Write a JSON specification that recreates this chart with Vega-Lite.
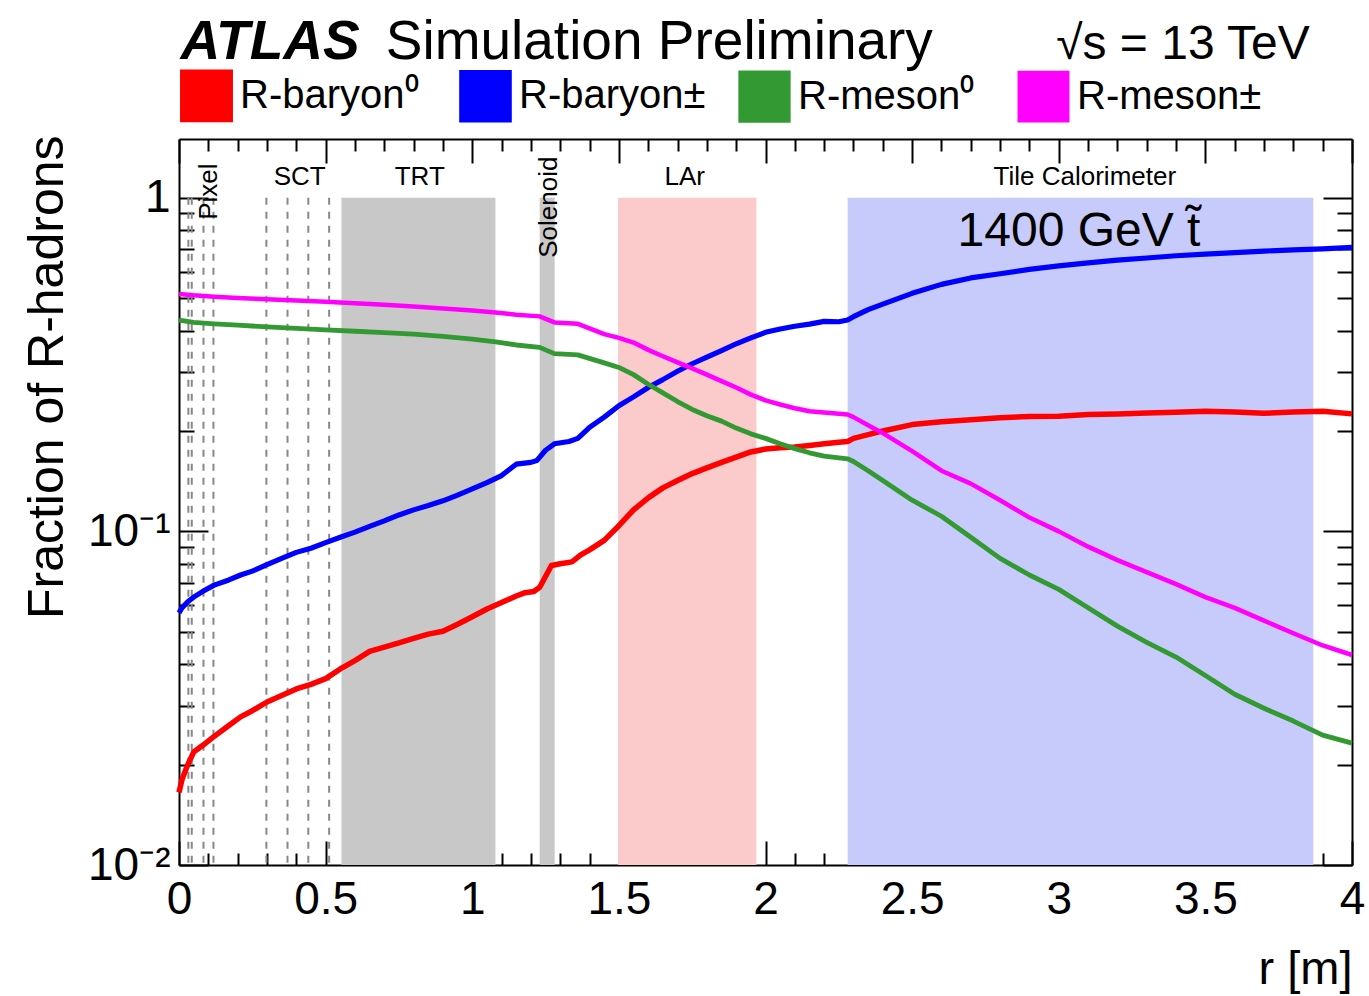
{
"$schema": "https://vega.github.io/schema/vega-lite/v6.json",
"width": 1173, "height": 726,
"autosize": {"type": "none"},
"padding": {"left": 179, "top": 139, "right": 17, "bottom": 131},
"background": "white",
"config": {
  "view": {"stroke": null},
  "font": "Liberation Sans",
  "axis": {"grid": false, "domain": false, "tickColor": "black", "tickWidth": 2, "labelColor": "black", "labelFont": "Liberation Sans", "titleFont": "Liberation Sans", "titleColor": "black", "titleFontWeight": "normal", "zindex": 1, "labelFlush": false, "labelOverlap": false, "domainColor": "black", "domainWidth": 2}
},
"datasets": {
  "regions": [
    {"detector": "TRT", "start": 0.554, "end": 1.079},
    {"detector": "Solenoid", "start": 1.230, "end": 1.281},
    {"detector": "LAr", "start": 1.497, "end": 1.969},
    {"detector": "Tile Calorimeter", "start": 2.280, "end": 3.868}
  ],
  "layers": [
    {"r": 0.032}, {"r": 0.0435}, {"r": 0.0835}, {"r": 0.1175},
    {"r": 0.298}, {"r": 0.370}, {"r": 0.441}, {"r": 0.512}
  ],
  "curves": [
    {"series": "R-baryon⁰", "r": 0.00, "v": 0.0165},
    {"series": "R-baryon⁰", "r": 0.01, "v": 0.0180},
    {"series": "R-baryon⁰", "r": 0.03, "v": 0.0200},
    {"series": "R-baryon⁰", "r": 0.05, "v": 0.0218},
    {"series": "R-baryon⁰", "r": 0.08, "v": 0.0228},
    {"series": "R-baryon⁰", "r": 0.12, "v": 0.0243},
    {"series": "R-baryon⁰", "r": 0.17, "v": 0.0262},
    {"series": "R-baryon⁰", "r": 0.21, "v": 0.0278},
    {"series": "R-baryon⁰", "r": 0.25, "v": 0.0290},
    {"series": "R-baryon⁰", "r": 0.30, "v": 0.0308},
    {"series": "R-baryon⁰", "r": 0.35, "v": 0.0322},
    {"series": "R-baryon⁰", "r": 0.40, "v": 0.0337},
    {"series": "R-baryon⁰", "r": 0.45, "v": 0.0348},
    {"series": "R-baryon⁰", "r": 0.50, "v": 0.0362},
    {"series": "R-baryon⁰", "r": 0.55, "v": 0.0387},
    {"series": "R-baryon⁰", "r": 0.60, "v": 0.0410},
    {"series": "R-baryon⁰", "r": 0.65, "v": 0.0437},
    {"series": "R-baryon⁰", "r": 0.70, "v": 0.0450},
    {"series": "R-baryon⁰", "r": 0.75, "v": 0.0463},
    {"series": "R-baryon⁰", "r": 0.80, "v": 0.0478},
    {"series": "R-baryon⁰", "r": 0.85, "v": 0.0492},
    {"series": "R-baryon⁰", "r": 0.90, "v": 0.0502},
    {"series": "R-baryon⁰", "r": 0.95, "v": 0.0527},
    {"series": "R-baryon⁰", "r": 1.00, "v": 0.0555},
    {"series": "R-baryon⁰", "r": 1.05, "v": 0.0585},
    {"series": "R-baryon⁰", "r": 1.10, "v": 0.0612},
    {"series": "R-baryon⁰", "r": 1.15, "v": 0.0640},
    {"series": "R-baryon⁰", "r": 1.18, "v": 0.0655},
    {"series": "R-baryon⁰", "r": 1.21, "v": 0.0660},
    {"series": "R-baryon⁰", "r": 1.23, "v": 0.0680},
    {"series": "R-baryon⁰", "r": 1.27, "v": 0.0790},
    {"series": "R-baryon⁰", "r": 1.30, "v": 0.0800},
    {"series": "R-baryon⁰", "r": 1.34, "v": 0.0810},
    {"series": "R-baryon⁰", "r": 1.37, "v": 0.0850},
    {"series": "R-baryon⁰", "r": 1.40, "v": 0.0880},
    {"series": "R-baryon⁰", "r": 1.45, "v": 0.0940},
    {"series": "R-baryon⁰", "r": 1.50, "v": 0.1040},
    {"series": "R-baryon⁰", "r": 1.55, "v": 0.1160},
    {"series": "R-baryon⁰", "r": 1.60, "v": 0.1260},
    {"series": "R-baryon⁰", "r": 1.65, "v": 0.1350},
    {"series": "R-baryon⁰", "r": 1.70, "v": 0.1420},
    {"series": "R-baryon⁰", "r": 1.75, "v": 0.1490},
    {"series": "R-baryon⁰", "r": 1.80, "v": 0.1550},
    {"series": "R-baryon⁰", "r": 1.85, "v": 0.1610},
    {"series": "R-baryon⁰", "r": 1.90, "v": 0.1670},
    {"series": "R-baryon⁰", "r": 1.95, "v": 0.1730},
    {"series": "R-baryon⁰", "r": 2.00, "v": 0.1765},
    {"series": "R-baryon⁰", "r": 2.05, "v": 0.1780},
    {"series": "R-baryon⁰", "r": 2.10, "v": 0.1790},
    {"series": "R-baryon⁰", "r": 2.15, "v": 0.1810},
    {"series": "R-baryon⁰", "r": 2.20, "v": 0.1830},
    {"series": "R-baryon⁰", "r": 2.25, "v": 0.1850},
    {"series": "R-baryon⁰", "r": 2.28, "v": 0.1860},
    {"series": "R-baryon⁰", "r": 2.30, "v": 0.1900},
    {"series": "R-baryon⁰", "r": 2.40, "v": 0.2000},
    {"series": "R-baryon⁰", "r": 2.50, "v": 0.2090},
    {"series": "R-baryon⁰", "r": 2.60, "v": 0.2130},
    {"series": "R-baryon⁰", "r": 2.70, "v": 0.2160},
    {"series": "R-baryon⁰", "r": 2.80, "v": 0.2190},
    {"series": "R-baryon⁰", "r": 2.90, "v": 0.2210},
    {"series": "R-baryon⁰", "r": 3.00, "v": 0.2215},
    {"series": "R-baryon⁰", "r": 3.10, "v": 0.2240},
    {"series": "R-baryon⁰", "r": 3.20, "v": 0.2250},
    {"series": "R-baryon⁰", "r": 3.30, "v": 0.2265},
    {"series": "R-baryon⁰", "r": 3.40, "v": 0.2275},
    {"series": "R-baryon⁰", "r": 3.50, "v": 0.2290},
    {"series": "R-baryon⁰", "r": 3.60, "v": 0.2280},
    {"series": "R-baryon⁰", "r": 3.70, "v": 0.2260},
    {"series": "R-baryon⁰", "r": 3.80, "v": 0.2280},
    {"series": "R-baryon⁰", "r": 3.90, "v": 0.2290},
    {"series": "R-baryon⁰", "r": 4.00, "v": 0.2250},

    {"series": "R-baryon±", "r": 0.00, "v": 0.0570},
    {"series": "R-baryon±", "r": 0.01, "v": 0.0590},
    {"series": "R-baryon±", "r": 0.03, "v": 0.0615},
    {"series": "R-baryon±", "r": 0.05, "v": 0.0635},
    {"series": "R-baryon±", "r": 0.08, "v": 0.0660},
    {"series": "R-baryon±", "r": 0.12, "v": 0.0690},
    {"series": "R-baryon±", "r": 0.17, "v": 0.0715},
    {"series": "R-baryon±", "r": 0.21, "v": 0.0740},
    {"series": "R-baryon±", "r": 0.25, "v": 0.0760},
    {"series": "R-baryon±", "r": 0.30, "v": 0.0795},
    {"series": "R-baryon±", "r": 0.35, "v": 0.0830},
    {"series": "R-baryon±", "r": 0.40, "v": 0.0865},
    {"series": "R-baryon±", "r": 0.45, "v": 0.0890},
    {"series": "R-baryon±", "r": 0.50, "v": 0.0925},
    {"series": "R-baryon±", "r": 0.55, "v": 0.0960},
    {"series": "R-baryon±", "r": 0.60, "v": 0.0995},
    {"series": "R-baryon±", "r": 0.65, "v": 0.1035},
    {"series": "R-baryon±", "r": 0.70, "v": 0.1075},
    {"series": "R-baryon±", "r": 0.75, "v": 0.1120},
    {"series": "R-baryon±", "r": 0.80, "v": 0.1160},
    {"series": "R-baryon±", "r": 0.85, "v": 0.1195},
    {"series": "R-baryon±", "r": 0.90, "v": 0.1235},
    {"series": "R-baryon±", "r": 0.95, "v": 0.1285},
    {"series": "R-baryon±", "r": 1.00, "v": 0.1340},
    {"series": "R-baryon±", "r": 1.05, "v": 0.1400},
    {"series": "R-baryon±", "r": 1.10, "v": 0.1470},
    {"series": "R-baryon±", "r": 1.15, "v": 0.1590},
    {"series": "R-baryon±", "r": 1.20, "v": 0.1610},
    {"series": "R-baryon±", "r": 1.22, "v": 0.1630},
    {"series": "R-baryon±", "r": 1.25, "v": 0.1750},
    {"series": "R-baryon±", "r": 1.28, "v": 0.1830},
    {"series": "R-baryon±", "r": 1.33, "v": 0.1860},
    {"series": "R-baryon±", "r": 1.36, "v": 0.1900},
    {"series": "R-baryon±", "r": 1.40, "v": 0.2050},
    {"series": "R-baryon±", "r": 1.45, "v": 0.2200},
    {"series": "R-baryon±", "r": 1.50, "v": 0.2380},
    {"series": "R-baryon±", "r": 1.55, "v": 0.2530},
    {"series": "R-baryon±", "r": 1.60, "v": 0.2700},
    {"series": "R-baryon±", "r": 1.65, "v": 0.2850},
    {"series": "R-baryon±", "r": 1.70, "v": 0.3020},
    {"series": "R-baryon±", "r": 1.75, "v": 0.3180},
    {"series": "R-baryon±", "r": 1.80, "v": 0.3330},
    {"series": "R-baryon±", "r": 1.85, "v": 0.3480},
    {"series": "R-baryon±", "r": 1.90, "v": 0.3650},
    {"series": "R-baryon±", "r": 1.95, "v": 0.3800},
    {"series": "R-baryon±", "r": 2.00, "v": 0.3950},
    {"series": "R-baryon±", "r": 2.05, "v": 0.4040},
    {"series": "R-baryon±", "r": 2.10, "v": 0.4120},
    {"series": "R-baryon±", "r": 2.15, "v": 0.4180},
    {"series": "R-baryon±", "r": 2.20, "v": 0.4260},
    {"series": "R-baryon±", "r": 2.25, "v": 0.4250},
    {"series": "R-baryon±", "r": 2.28, "v": 0.4300},
    {"series": "R-baryon±", "r": 2.30, "v": 0.4400},
    {"series": "R-baryon±", "r": 2.35, "v": 0.4620},
    {"series": "R-baryon±", "r": 2.40, "v": 0.4800},
    {"series": "R-baryon±", "r": 2.50, "v": 0.5170},
    {"series": "R-baryon±", "r": 2.60, "v": 0.5500},
    {"series": "R-baryon±", "r": 2.70, "v": 0.5750},
    {"series": "R-baryon±", "r": 2.80, "v": 0.5920},
    {"series": "R-baryon±", "r": 2.90, "v": 0.6100},
    {"series": "R-baryon±", "r": 3.00, "v": 0.6250},
    {"series": "R-baryon±", "r": 3.10, "v": 0.6380},
    {"series": "R-baryon±", "r": 3.20, "v": 0.6500},
    {"series": "R-baryon±", "r": 3.30, "v": 0.6600},
    {"series": "R-baryon±", "r": 3.40, "v": 0.6700},
    {"series": "R-baryon±", "r": 3.50, "v": 0.6780},
    {"series": "R-baryon±", "r": 3.60, "v": 0.6850},
    {"series": "R-baryon±", "r": 3.70, "v": 0.6920},
    {"series": "R-baryon±", "r": 3.80, "v": 0.6980},
    {"series": "R-baryon±", "r": 3.90, "v": 0.7030},
    {"series": "R-baryon±", "r": 4.00, "v": 0.7100},

    {"series": "R-meson⁰", "r": 0.00, "v": 0.4300},
    {"series": "R-meson⁰", "r": 0.05, "v": 0.4230},
    {"series": "R-meson⁰", "r": 0.12, "v": 0.4190},
    {"series": "R-meson⁰", "r": 0.20, "v": 0.4150},
    {"series": "R-meson⁰", "r": 0.30, "v": 0.4100},
    {"series": "R-meson⁰", "r": 0.40, "v": 0.4060},
    {"series": "R-meson⁰", "r": 0.50, "v": 0.4020},
    {"series": "R-meson⁰", "r": 0.60, "v": 0.3980},
    {"series": "R-meson⁰", "r": 0.70, "v": 0.3940},
    {"series": "R-meson⁰", "r": 0.80, "v": 0.3900},
    {"series": "R-meson⁰", "r": 0.90, "v": 0.3840},
    {"series": "R-meson⁰", "r": 1.00, "v": 0.3770},
    {"series": "R-meson⁰", "r": 1.08, "v": 0.3700},
    {"series": "R-meson⁰", "r": 1.15, "v": 0.3620},
    {"series": "R-meson⁰", "r": 1.23, "v": 0.3560},
    {"series": "R-meson⁰", "r": 1.28, "v": 0.3410},
    {"series": "R-meson⁰", "r": 1.36, "v": 0.3380},
    {"series": "R-meson⁰", "r": 1.45, "v": 0.3200},
    {"series": "R-meson⁰", "r": 1.50, "v": 0.3100},
    {"series": "R-meson⁰", "r": 1.55, "v": 0.2950},
    {"series": "R-meson⁰", "r": 1.60, "v": 0.2760},
    {"series": "R-meson⁰", "r": 1.65, "v": 0.2600},
    {"series": "R-meson⁰", "r": 1.70, "v": 0.2450},
    {"series": "R-meson⁰", "r": 1.75, "v": 0.2320},
    {"series": "R-meson⁰", "r": 1.80, "v": 0.2220},
    {"series": "R-meson⁰", "r": 1.85, "v": 0.2140},
    {"series": "R-meson⁰", "r": 1.90, "v": 0.2040},
    {"series": "R-meson⁰", "r": 1.95, "v": 0.1960},
    {"series": "R-meson⁰", "r": 2.00, "v": 0.1900},
    {"series": "R-meson⁰", "r": 2.05, "v": 0.1830},
    {"series": "R-meson⁰", "r": 2.10, "v": 0.1770},
    {"series": "R-meson⁰", "r": 2.15, "v": 0.1720},
    {"series": "R-meson⁰", "r": 2.20, "v": 0.1680},
    {"series": "R-meson⁰", "r": 2.28, "v": 0.1650},
    {"series": "R-meson⁰", "r": 2.30, "v": 0.1620},
    {"series": "R-meson⁰", "r": 2.35, "v": 0.1520},
    {"series": "R-meson⁰", "r": 2.40, "v": 0.1420},
    {"series": "R-meson⁰", "r": 2.50, "v": 0.1240},
    {"series": "R-meson⁰", "r": 2.60, "v": 0.1110},
    {"series": "R-meson⁰", "r": 2.70, "v": 0.0960},
    {"series": "R-meson⁰", "r": 2.80, "v": 0.0830},
    {"series": "R-meson⁰", "r": 2.90, "v": 0.0740},
    {"series": "R-meson⁰", "r": 3.00, "v": 0.0670},
    {"series": "R-meson⁰", "r": 3.10, "v": 0.0590},
    {"series": "R-meson⁰", "r": 3.20, "v": 0.0520},
    {"series": "R-meson⁰", "r": 3.30, "v": 0.0465},
    {"series": "R-meson⁰", "r": 3.40, "v": 0.0420},
    {"series": "R-meson⁰", "r": 3.50, "v": 0.0370},
    {"series": "R-meson⁰", "r": 3.60, "v": 0.0325},
    {"series": "R-meson⁰", "r": 3.70, "v": 0.0295},
    {"series": "R-meson⁰", "r": 3.80, "v": 0.0270},
    {"series": "R-meson⁰", "r": 3.90, "v": 0.0245},
    {"series": "R-meson⁰", "r": 4.00, "v": 0.0232},

    {"series": "R-meson±", "r": 0.00, "v": 0.5150},
    {"series": "R-meson±", "r": 0.05, "v": 0.5100},
    {"series": "R-meson±", "r": 0.12, "v": 0.5050},
    {"series": "R-meson±", "r": 0.20, "v": 0.5010},
    {"series": "R-meson±", "r": 0.30, "v": 0.4960},
    {"series": "R-meson±", "r": 0.40, "v": 0.4920},
    {"series": "R-meson±", "r": 0.50, "v": 0.4880},
    {"series": "R-meson±", "r": 0.60, "v": 0.4830},
    {"series": "R-meson±", "r": 0.70, "v": 0.4780},
    {"series": "R-meson±", "r": 0.80, "v": 0.4720},
    {"series": "R-meson±", "r": 0.90, "v": 0.4660},
    {"series": "R-meson±", "r": 1.00, "v": 0.4590},
    {"series": "R-meson±", "r": 1.08, "v": 0.4530},
    {"series": "R-meson±", "r": 1.15, "v": 0.4460},
    {"series": "R-meson±", "r": 1.23, "v": 0.4410},
    {"series": "R-meson±", "r": 1.28, "v": 0.4230},
    {"series": "R-meson±", "r": 1.36, "v": 0.4190},
    {"series": "R-meson±", "r": 1.45, "v": 0.3900},
    {"series": "R-meson±", "r": 1.50, "v": 0.3800},
    {"series": "R-meson±", "r": 1.55, "v": 0.3680},
    {"series": "R-meson±", "r": 1.60, "v": 0.3500},
    {"series": "R-meson±", "r": 1.65, "v": 0.3350},
    {"series": "R-meson±", "r": 1.70, "v": 0.3210},
    {"series": "R-meson±", "r": 1.75, "v": 0.3080},
    {"series": "R-meson±", "r": 1.80, "v": 0.2950},
    {"series": "R-meson±", "r": 1.85, "v": 0.2820},
    {"series": "R-meson±", "r": 1.90, "v": 0.2700},
    {"series": "R-meson±", "r": 1.95, "v": 0.2570},
    {"series": "R-meson±", "r": 2.00, "v": 0.2470},
    {"series": "R-meson±", "r": 2.05, "v": 0.2400},
    {"series": "R-meson±", "r": 2.10, "v": 0.2340},
    {"series": "R-meson±", "r": 2.15, "v": 0.2290},
    {"series": "R-meson±", "r": 2.20, "v": 0.2270},
    {"series": "R-meson±", "r": 2.28, "v": 0.2240},
    {"series": "R-meson±", "r": 2.30, "v": 0.2200},
    {"series": "R-meson±", "r": 2.35, "v": 0.2080},
    {"series": "R-meson±", "r": 2.40, "v": 0.1970},
    {"series": "R-meson±", "r": 2.50, "v": 0.1740},
    {"series": "R-meson±", "r": 2.60, "v": 0.1520},
    {"series": "R-meson±", "r": 2.70, "v": 0.1390},
    {"series": "R-meson±", "r": 2.80, "v": 0.1240},
    {"series": "R-meson±", "r": 2.90, "v": 0.1100},
    {"series": "R-meson±", "r": 3.00, "v": 0.1000},
    {"series": "R-meson±", "r": 3.10, "v": 0.0900},
    {"series": "R-meson±", "r": 3.20, "v": 0.0820},
    {"series": "R-meson±", "r": 3.30, "v": 0.0755},
    {"series": "R-meson±", "r": 3.40, "v": 0.0695},
    {"series": "R-meson±", "r": 3.50, "v": 0.0635},
    {"series": "R-meson±", "r": 3.60, "v": 0.0590},
    {"series": "R-meson±", "r": 3.70, "v": 0.0540},
    {"series": "R-meson±", "r": 3.80, "v": 0.0495},
    {"series": "R-meson±", "r": 3.90, "v": 0.0455},
    {"series": "R-meson±", "r": 4.00, "v": 0.0426}
  ]
},
"layer": [
  {
    "data": {"name": "regions"},
    "mark": {"type": "rect"},
    "encoding": {
      "x": {"field": "start", "type": "quantitative", "scale": {"domain": [0, 4], "nice": false, "zero": false},
            "axis": {"orient": "bottom", "values": [0, 0.5, 1, 1.5, 2, 2.5, 3, 3.5, 4], "labelExpr": "format(datum.value, '~g')", "ticks": false, "domain": true, "labelFontSize": 46, "labelPadding": 12,
                     "title": "r [m]", "titleFontSize": 47, "titleX": 1173, "titleY": 118, "titleAlign": "right", "titleBaseline": "alphabetic", "titleAnchor": null}},
      "x2": {"field": "end"},
      "y": {"datum": 1, "type": "quantitative", "scale": {"type": "log", "domain": [0.01, 1.5], "nice": false},
            "axis": {"orient": "left", "values": [0.01, 0.1, 1], "labelExpr": "datum.value >= 0.9 ? '1' : datum.value >= 0.09 ? '10⁻¹' : '10⁻²'", "ticks": false, "domain": true, "labelFontSize": 46, "labelPadding": 9,
                     "title": "Fraction of R-hadrons", "titleFontSize": 50, "titleAngle": 270, "titleX": -117, "titleY": -4, "titleAlign": "right", "titleBaseline": "alphabetic", "titleAnchor": null}},
      "y2": {"datum": 0.01},
      "fill": {"field": "detector", "type": "nominal", "scale": {"domain": ["TRT", "Solenoid", "LAr", "Tile Calorimeter"], "range": ["#c8c8c8", "#c8c8c8", "#fbcaca", "#c7cbfb"]}, "legend": null}
    }
  },
  {
    "data": {"name": "layers"},
    "mark": {"type": "rule", "color": "#888888", "strokeWidth": 2, "strokeDash": [7, 7]},
    "encoding": {
      "x": {"field": "r", "type": "quantitative", "scale": {"domain": [0, 4], "nice": false, "zero": false},
            "axis": {"orient": "bottom", "values": [0, 0.5, 1, 1.5, 2, 2.5, 3, 3.5, 4], "labels": false, "tickSize": -24, "title": null}},
      "y": {"datum": 1, "type": "quantitative", "scale": {"type": "log", "domain": [0.01, 1.5], "nice": false},
            "axis": {"orient": "left", "values": [0.01, 0.1, 1], "labels": false, "tickSize": -29, "title": null}},
      "y2": {"datum": 0.01}
    }
  },
  {
    "data": {"name": "curves"},
    "mark": {"type": "line", "strokeJoin": "round", "strokeCap": "butt"},
    "encoding": {
      "x": {"field": "r", "type": "quantitative", "scale": {"domain": [0, 4], "nice": false, "zero": false},
            "axis": {"orient": "bottom", "values": [0.1, 0.2, 0.3, 0.4, 0.6, 0.7, 0.8, 0.9, 1.1, 1.2, 1.3, 1.4, 1.6, 1.7, 1.8, 1.9, 2.1, 2.2, 2.3, 2.4, 2.6, 2.7, 2.8, 2.9, 3.1, 3.2, 3.3, 3.4, 3.6, 3.7, 3.8, 3.9], "labels": false, "tickSize": -12, "title": null}},
      "y": {"field": "v", "type": "quantitative", "scale": {"type": "log", "domain": [0.01, 1.5], "nice": false},
            "axis": {"orient": "left", "values": [0.02, 0.03, 0.04, 0.05, 0.06, 0.07, 0.08, 0.09, 0.2, 0.3, 0.4, 0.5, 0.6, 0.7, 0.8, 0.9], "labels": false, "tickSize": -15, "title": null}},
      "color": {"field": "series", "type": "nominal",
                "scale": {"domain": ["R-baryon⁰", "R-baryon±", "R-meson⁰", "R-meson±"], "range": ["#ff0000", "#0000ff", "#339933", "#ff00ff"]},
                "legend": {"orient": "none", "legendX": 1, "legendY": -70, "direction": "horizontal", "columns": 4, "gridAlign": "all", "title": null,
                           "symbolType": "square", "symbolSize": 2250, "symbolStrokeWidth": 0, "labelFontSize": 40, "labelFont": "Liberation Sans", "labelColor": "black", "labelLimit": 400,
                           "labelOffset": 7, "columnPadding": 24, "padding": 0, "offset": 0,
                           "encode": {"symbols": {"update": {"fill": {"scale": "color", "field": "value"}, "fillOpacity": {"value": 1}, "strokeWidth": {"value": 0}}}}}},
      "strokeWidth": {"field": "series", "type": "nominal", "scale": {"domain": ["R-baryon⁰", "R-baryon±", "R-meson⁰", "R-meson±"], "range": [5.5, 4.5, 4, 4]}, "legend": null}
    }
  },
  {
    "data": {"values": [{}]},
    "mark": {"type": "text", "text": "Pixel", "fontSize": 26, "angle": 270, "align": "left", "baseline": "alphabetic", "color": "black"},
    "encoding": {
      "x": {"datum": 0.1286, "type": "quantitative", "scale": {"domain": [0, 4], "nice": false, "zero": false},
            "axis": {"orient": "top", "values": [0, 0.5, 1, 1.5, 2, 2.5, 3, 3.5, 4], "labels": false, "tickSize": -24, "domain": true, "title": null}},
      "y": {"datum": 0.859, "type": "quantitative", "scale": {"type": "log", "domain": [0.01, 1.5], "nice": false},
            "axis": {"orient": "right", "values": [0.01, 0.1, 1], "labels": false, "tickSize": -29, "domain": true, "title": null}}
    }
  },
  {
    "data": {"values": [{}]},
    "mark": {"type": "text", "text": "SCT", "fontSize": 26, "align": "center", "baseline": "alphabetic", "color": "black"},
    "encoding": {
      "x": {"datum": 0.4117, "type": "quantitative", "scale": {"domain": [0, 4], "nice": false, "zero": false},
            "axis": {"orient": "top", "values": [0.1, 0.2, 0.3, 0.4, 0.6, 0.7, 0.8, 0.9, 1.1, 1.2, 1.3, 1.4, 1.6, 1.7, 1.8, 1.9, 2.1, 2.2, 2.3, 2.4, 2.6, 2.7, 2.8, 2.9, 3.1, 3.2, 3.3, 3.4, 3.6, 3.7, 3.8, 3.9], "labels": false, "tickSize": -12, "title": null}},
      "y": {"datum": 1.094, "type": "quantitative", "scale": {"type": "log", "domain": [0.01, 1.5], "nice": false},
            "axis": {"orient": "right", "values": [0.02, 0.03, 0.04, 0.05, 0.06, 0.07, 0.08, 0.09, 0.2, 0.3, 0.4, 0.5, 0.6, 0.7, 0.8, 0.9], "labels": false, "tickSize": -15, "title": null}}
    }
  },
  {
    "data": {"values": [{}]},
    "mark": {"type": "text", "text": "TRT", "fontSize": 26, "align": "center", "baseline": "alphabetic", "color": "black"},
    "encoding": {"x": {"datum": 0.8209, "type": "quantitative", "axis": null}, "y": {"datum": 1.094, "type": "quantitative", "axis": null}}
  },
  {
    "data": {"values": [{}]},
    "mark": {"type": "text", "text": "Solenoid", "fontSize": 26, "angle": 270, "align": "left", "baseline": "alphabetic", "color": "black"},
    "encoding": {"x": {"datum": 1.288, "type": "quantitative", "axis": null}, "y": {"datum": 0.661, "type": "quantitative", "axis": null}}
  },
  {
    "data": {"values": [{}]},
    "mark": {"type": "text", "text": "LAr", "fontSize": 26, "align": "center", "baseline": "alphabetic", "color": "black"},
    "encoding": {"x": {"datum": 1.7247, "type": "quantitative", "axis": null}, "y": {"datum": 1.094, "type": "quantitative", "axis": null}}
  },
  {
    "data": {"values": [{}]},
    "mark": {"type": "text", "text": "Tile Calorimeter", "fontSize": 26, "align": "center", "baseline": "alphabetic", "color": "black"},
    "encoding": {"x": {"datum": 3.089, "type": "quantitative", "axis": null}, "y": {"datum": 1.094, "type": "quantitative", "axis": null}}
  },
  {
    "data": {"values": [{}]},
    "mark": {"type": "text", "text": "1400 GeV t̃", "fontSize": 48, "align": "center", "baseline": "alphabetic", "color": "black"},
    "encoding": {"x": {"datum": 3.069, "type": "quantitative", "axis": null}, "y": {"datum": 0.718, "type": "quantitative", "axis": null}}
  },
  {
    "data": {"values": [{}]},
    "mark": {"type": "text", "text": "ATLAS", "fontSize": 55, "fontStyle": "italic", "fontWeight": "bold", "align": "left", "baseline": "alphabetic", "color": "black"},
    "encoding": {"x": {"datum": 0.005, "type": "quantitative", "axis": null}, "y": {"datum": 2.6, "type": "quantitative", "axis": null}}
  },
  {
    "data": {"values": [{}]},
    "mark": {"type": "text", "text": "Simulation Preliminary", "fontSize": 55, "align": "left", "baseline": "alphabetic", "color": "black"},
    "encoding": {"x": {"datum": 0.705, "type": "quantitative", "axis": null}, "y": {"datum": 2.6, "type": "quantitative", "axis": null}}
  },
  {
    "data": {"values": [{}]},
    "mark": {"type": "text", "text": "√s = 13 TeV", "fontSize": 48, "align": "right", "baseline": "alphabetic", "color": "black"},
    "encoding": {"x": {"datum": 3.856, "type": "quantitative", "axis": null}, "y": {"datum": 2.6, "type": "quantitative", "axis": null}}
  }
],
"resolve": {"axis": {"x": "independent", "y": "independent"}}
}
